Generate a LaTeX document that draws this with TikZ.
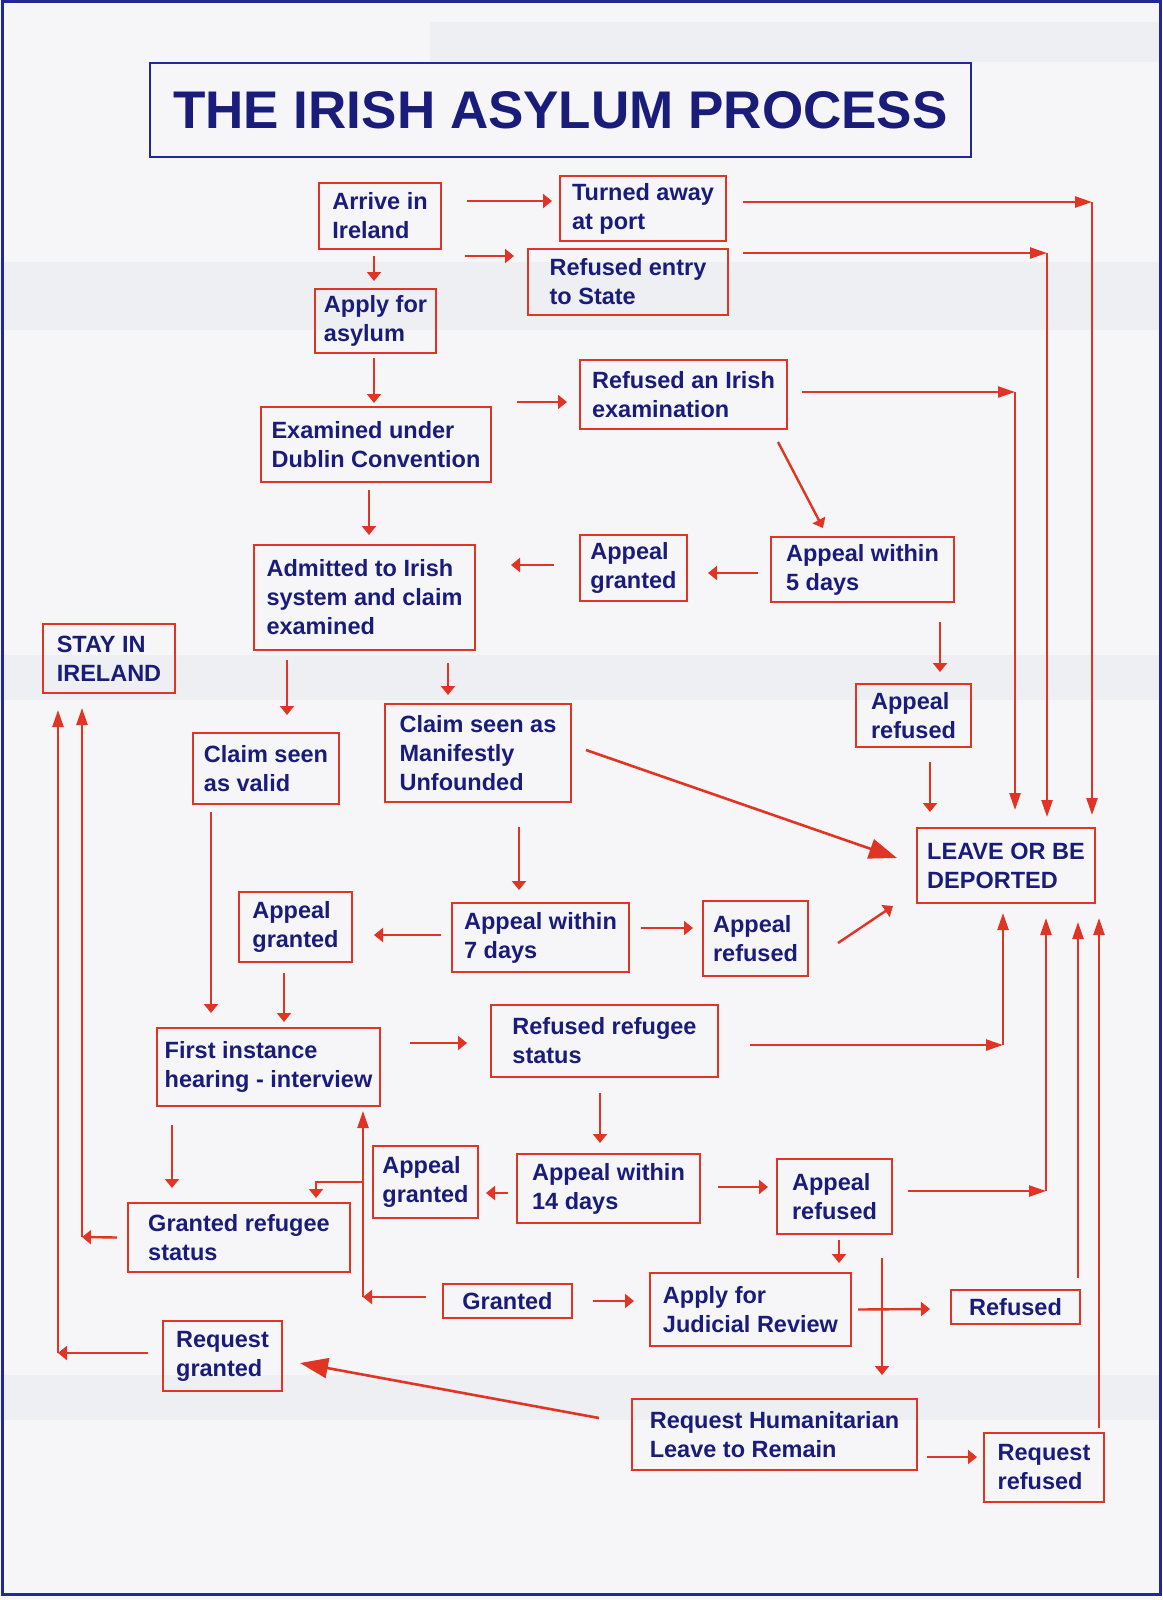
\documentclass[tikz,border=0pt]{standalone}
\usepackage{fontspec}
\setmainfont{Liberation Sans}
\usetikzlibrary{arrows.meta,calc}
\definecolor{linered}{RGB}{224,52,36}
\definecolor{textblue}{RGB}{26,28,122}
\definecolor{frameblue}{RGB}{34,40,150}
\definecolor{paper}{RGB}{246,246,248}
\definecolor{band}{RGB}{238,239,243}

\begin{document}
\begin{tikzpicture}[x=1pt,y=-1pt,
    box/.style={draw=linered, line width=2.6pt, inner sep=0pt, outer sep=0pt, align=left, text=textblue,
        font=\fontsize{23.5}{29}\selectfont\bfseries},
    arr/.style={draw=linered, line width=2.4pt, -{Triangle[length=9pt,width=14pt]}},
    longarr/.style={draw=linered, line width=2.4pt, -{Triangle[length=17pt,width=11pt]}},
    bigarr/.style={draw=linered, line width=2.6pt, -{Triangle[length=28pt,width=20pt]}}]

    \useasboundingbox (0,0) rectangle (1162,1600);
    \fill [paper] (0,0) rectangle (1162,1600);
    \fill [band] (430,22) rectangle (1162,62);
    \fill [band] (0,262) rectangle (1162,330);
    \fill [band] (0,655) rectangle (1162,700);
    \fill [band] (0,1375) rectangle (1162,1420);
    \draw [frameblue, line width=3pt] (2,1.5) rectangle (1160,1594);

    \node [draw=frameblue, line width=2.4pt, inner sep=0pt, minimum width=821pt, minimum height=94pt,
        text=textblue, font=\fontsize{53}{60}\selectfont\bfseries] (title) at (560.5,110) {THE IRISH ASYLUM PROCESS};

    \node [box, minimum width=122pt, minimum height=66pt] (arrive) at (380,216) {Arrive in\\Ireland};
    \node [box, minimum width=166pt, minimum height=65pt] (turned) at (643,208.5) {Turned away\\at port};
    \node [box, minimum width=200pt, minimum height=66pt] (refentry) at (628,282) {Refused entry\\to State};
    \node [box, minimum width=121pt, minimum height=64pt] (apply) at (375.5,321) {Apply for\\asylum};
    \node [box, minimum width=207pt, minimum height=69pt] (refirish) at (683.5,394.5) {Refused an Irish\\examination};
    \node [box, minimum width=230pt, minimum height=75pt] (examined) at (376,444.5) {Examined under\\Dublin Convention};
    \node [box, minimum width=107pt, minimum height=66pt] (granted1) at (633.5,568) {Appeal\\granted};
    \node [box, minimum width=183pt, minimum height=65pt] (within5) at (862.5,569.5) {Appeal within\\5 days};
    \node [box, minimum width=221pt, minimum height=105pt] (admitted) at (364.5,597.5) {Admitted to Irish\\system and claim\\examined};
    \node [box, minimum width=132pt, minimum height=69pt] (stay) at (109,658.5) {STAY IN\\IRELAND};
    \node [box, minimum width=115pt, minimum height=63pt] (refused1) at (913.5,715.5) {Appeal\\refused};
    \node [box, minimum width=186pt, minimum height=98pt] (manifest) at (478,753) {Claim seen as\\Manifestly\\Unfounded};
    \node [box, minimum width=146pt, minimum height=71pt] (valid) at (266,768.5) {Claim seen\\as valid};
    \node [box, minimum width=178pt, minimum height=75pt] (leave) at (1006,865.5) {LEAVE OR BE\\DEPORTED};
    \node [box, minimum width=113pt, minimum height=70pt] (granted2) at (295.5,927) {Appeal\\granted};
    \node [box, minimum width=177pt, minimum height=69pt] (within7) at (540.5,937.5) {Appeal within\\7 days};
    \node [box, minimum width=105pt, minimum height=75pt] (refused2) at (755.5,938.5) {Appeal\\refused};
    \node [box, minimum width=223pt, minimum height=78pt] (first) at (268.5,1067) {First instance\\hearing - interview};
    \node [box, minimum width=227pt, minimum height=72pt] (refstatus) at (604.5,1041) {Refused refugee\\status};
    \node [box, minimum width=105pt, minimum height=72pt] (granted3) at (425.5,1182) {Appeal\\granted};
    \node [box, minimum width=183pt, minimum height=69pt] (within14) at (608.5,1188.5) {Appeal within\\14 days};
    \node [box, minimum width=115pt, minimum height=75pt] (refused3) at (834.5,1196.5) {Appeal\\refused};
    \node [box, minimum width=222pt, minimum height=69pt] (grantedref) at (239,1237.5) {Granted refugee\\status};
    \node [box, minimum width=129pt, minimum height=34pt] (granted) at (507.5,1301) {Granted};
    \node [box, minimum width=201pt, minimum height=73pt] (review) at (750.5,1309.5) {Apply for\\Judicial Review};
    \node [box, minimum width=129pt, minimum height=34pt] (refused) at (1015.5,1307) {Refused};
    \node [box, minimum width=119pt, minimum height=70pt] (reqgranted) at (222.5,1356) {Request\\granted};
    \node [box, minimum width=285pt, minimum height=71pt] (humanit) at (774.5,1434.5) {Request Humanitarian\\Leave to Remain};
    \node [box, minimum width=120pt, minimum height=69pt] (reqrefused) at (1044,1467.5) {Request\\refused};

    \coordinate (portcol) at (1092,202);
    \coordinate (entrycol) at (1047,253);
    \coordinate (irishcol) at (1015,392);
    \coordinate (statuscol) at (1003,1045);
    \coordinate (appealcol) at (1046,1191);
    \coordinate (grantcol) at (363,1297);
    \coordinate (refugeecol) at (82,1237);
    \coordinate (requestcol) at (58,1353);

    \draw [arr] ($(arrive.north east)+(26,18)$) -- ($(turned.north west)+(-8,25)$);
    \draw [arr] ($(arrive.south east)+(24,7)$) -- ($(refentry.north west)+(-14,7)$);
    \draw [arr] ($(arrive.south)+(-6,7)$) -- ($(apply.north)+(-1.5,-8)$);
    \draw [arr] ($(apply.south)+(-1.5,5)$) -- ($(examined.north)+(-2,-4)$);
    \draw [arr] ($(examined.north east)+(26,-5)$) -- ($(refirish.west)+(-13,7.5)$);

    \draw [longarr] ($(turned.east)+(17,-6.5)$) -- (portcol);
    \draw [longarr] (portcol) -- ($(leave.north east)+(-3,-13)$);
    \draw [longarr] ($(refentry.north east)+(15,4)$) -- (entrycol);
    \draw [longarr] (entrycol) -- ($(leave.north east)+(-48,-11)$);
    \draw [longarr] ($(refirish.east)+(15,-2.5)$) -- (irishcol);
    \draw [longarr] (irishcol) -- ($(leave.north west)+(98,-18)$);

    \draw [arr] ($(refirish.south east)+(-9,13)$) -- ($(within5.north west)+(52,-9)$);
    \draw [arr] ($(within5.west)+(-13,3.5)$) -- ($(granted1.east)+(21,5)$);
    \draw [arr] ($(granted1.west)+(-26,-3)$) -- ($(admitted.north east)+(36,20)$);
    \draw [arr] ($(examined.south)+(-7,8)$) -- ($(admitted.north)+(4.5,-10)$);
    \draw [arr] ($(within5.south east)+(-14,20)$) -- ($(refused1.north)+(26.5,-12)$);
    \draw [arr] ($(admitted.south west)+(33,10)$) -- ($(valid.north)+(21,-18)$);
    \draw [arr] ($(admitted.south east)+(-27,13)$) -- ($(manifest.north west)+(63,-9)$);
    \draw [arr] ($(refused1.south)+(16.5,15)$) -- ($(leave.north west)+(13,-16)$);
    \draw [bigarr] ($(manifest.east)+(15,-3)$) -- ($(leave.west)+(-20,-7.5)$);

    \draw [arr] ($(manifest.south)+(41,25)$) -- ($(within7.north)+(-21.5,-13)$);
    \draw [arr] ($(within7.west)+(-11,-2.5)$) -- ($(granted2.east)+(22,8)$);
    \draw [arr] ($(within7.east)+(12,-9.5)$) -- ($(refused2.west)+(-10,-10.5)$);
    \draw [arr] ($(refused2.east)+(30,4.5)$) -- ($(leave.south west)+(-24,3)$);
    \draw [arr] ($(valid.south west)+(18,8)$) -- ($(first.north west)+(54,-15)$);
    \draw [arr] ($(granted2.south)+(-11.5,11)$) -- ($(first.north)+(15.5,-6)$);
    \draw [arr] ($(first.east)+(30,-24)$) -- ($(refstatus.west)+(-24,2)$);

    \draw [longarr] ($(refstatus.east)+(32,4)$) -- (statuscol);
    \draw [longarr] (statuscol) -- ($(leave.south west)+(86,10)$);
    \draw [arr] ($(refstatus.south)+(-4.5,16)$) -- ($(within14.north)+(-8.5,-11)$);
    \draw [arr] ($(first.south west)+(15,19)$) -- ($(grantedref.north west)+(44,-15)$);
    \draw [arr] ($(within14.west)+(-9,4.5)$) -- ($(granted3.east)+(8,11)$);
    \draw [arr] ($(within14.east)+(18,-1.5)$) -- ($(refused3.west)+(-9,-9.5)$);
    \draw [longarr] ($(refused3.east)+(16,-5.5)$) -- (appealcol);
    \draw [longarr] (appealcol) -- ($(leave.south east)+(-49,15)$);

    \draw [arr] ($(granted.west)+(-17,-4)$) -- (grantcol);
    \draw [longarr] (grantcol) -- ($(first.south east)+(-17,5)$);
    \draw [arr] ($(granted3.west)+(-10,0)$) -| ($(grantedref.north east)+(-34,-5)$);
    \draw [arr] ($(granted.east)+(21,0)$) -- ($(review.west)+(-16,-8.5)$);
    \draw [arr] ($(refused3.south)+(4.5,6)$) -- ($(review.north east)+(-12,-10)$);
    \draw [arr] ($(refused3.south east)+(-10,24)$) -- ($(humanit.north east)+(-35,-24)$);
    \draw [arr] ($(review.east)+(7,0)$) -- ($(refused.west)+(-21,2)$);
    \draw [longarr] ($(refused.north east)+(-2,-12)$) -- ($(leave.south east)+(-17,19)$);
    \draw [longarr] ($(reqrefused.north east)+(-5,-5)$) -- ($(leave.south east)+(4,15)$);
    \draw [arr] ($(humanit.east)+(10,22.5)$) -- ($(reqrefused.west)+(-7,-10.5)$);
    \draw [bigarr] ($(humanit.west)+(-33,-16.5)$) -- ($(reqgranted.east)+(18,7)$);

    \draw [arr] ($(grantedref.west)+(-11,0)$) -- (refugeecol);
    \draw [longarr] (refugeecol) -- ($(stay.south)+(-27,15)$);
    \draw [arr] ($(reqgranted.west)+(-15,-3)$) -- (requestcol);
    \draw [longarr] (requestcol) -- ($(stay.south west)+(15,17)$);
\end{tikzpicture}
\end{document}
